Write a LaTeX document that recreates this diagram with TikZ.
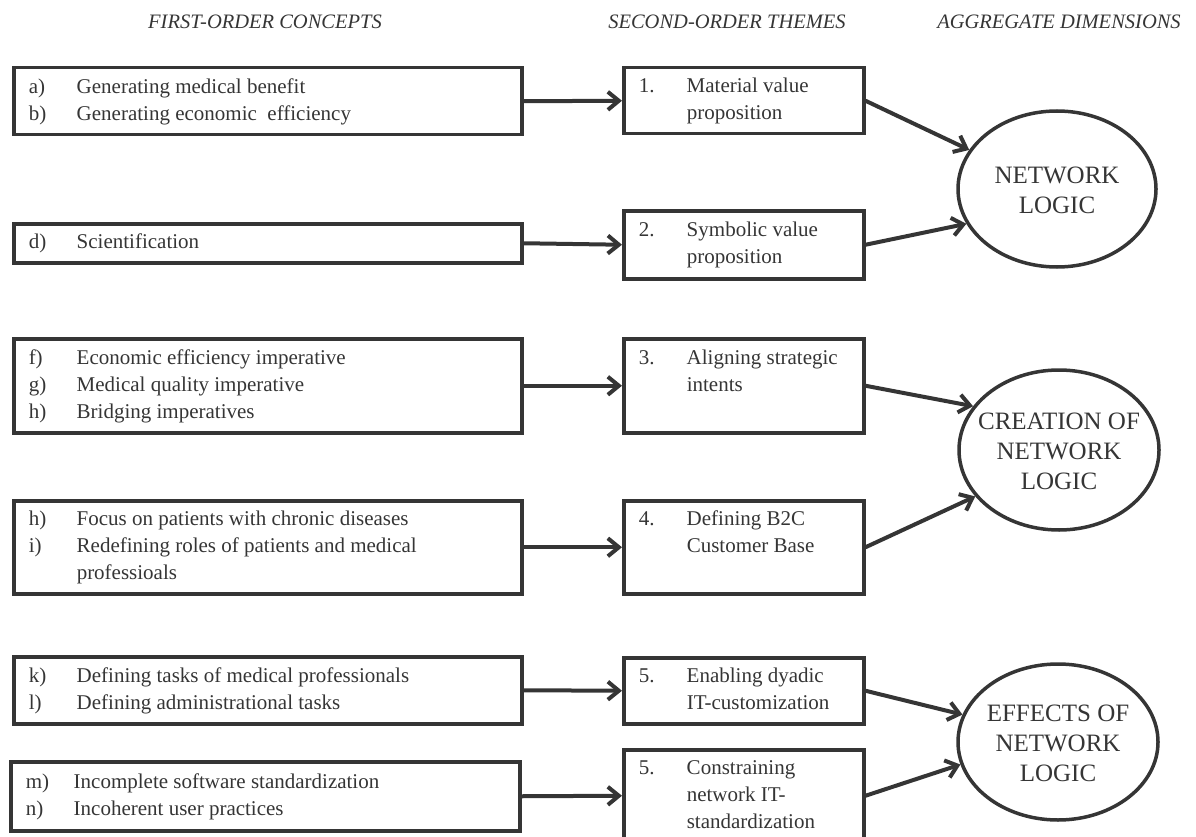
\documentclass[tikz,border=0pt]{standalone}
\usepackage{fontspec}
\setmainfont{Liberation Serif}
\usetikzlibrary{arrows.meta,shapes.geometric}
\definecolor{ink}{HTML}{353535}
\newcommand\bxt[2]{\hbox to #1pt{\hskip15pt\begin{tabular}{@{}p{48pt}@{}l@{}}#2\end{tabular}\hfil}}
\newcommand\fixtxt[1]{\smash{\makebox[0pt]{\raisebox{-10pt}{\begin{tabular}{@{}c@{}}#1\end{tabular}}}}}
\begin{document}
\begin{tikzpicture}[x=1pt,y=-1pt,
  box/.style={draw=ink, line width=3.5pt, rectangle, anchor=north west, inner sep=0pt, text=ink,
    font=\fontsize{21}{27}\selectfont},
  dim/.style={draw=ink, line width=3.5pt, ellipse, inner sep=0pt, text=ink,
    font=\fontsize{25}{30}\selectfont},
  head/.style={text=ink, inner sep=0pt, font=\fontsize{20.5}{24}\selectfont\itshape},
  arr/.style={draw=ink, line width=4pt, -{Straight Barb[length=11pt,width=18pt]}}]
\useasboundingbox (0,0) rectangle (1196,837);
\clip (0,0) rectangle (1196,837);

% headers
\node[head] (h1) at (265,22) {FIRST-ORDER CONCEPTS};
\node[head] (h2) at (727,22) {SECOND-ORDER THEMES};
\node[head] (h3) at (1059,22) {AGGREGATE DIMENSIONS};

% first-order concepts
\node[box, minimum height=67pt] (A) at (12,66) {\bxt{508}{a) & Generating medical benefit\\ b) & Generating economic\ \ efficiency}};
\node[box, minimum height=39pt] (D) at (12,222) {\bxt{508}{d) & Scientification}};
\node[box, minimum height=94pt] (F) at (12,337) {\bxt{508}{f) & Economic efficiency imperative\\ g) & Medical quality imperative\\ h) & Bridging imperatives}};
\node[box, minimum height=93pt] (HI) at (12,499) {\bxt{508}{h) & Focus on patients with chronic diseases\\ i) & Redefining roles of patients and medical\\ & professioals}};
\node[box, minimum height=67pt] (KL) at (12,655) {\bxt{508}{k) & Defining tasks of medical professionals\\ l) & Defining administrational tasks}};
\node[box, minimum height=69pt] (MN) at (9,760) {\bxt{509}{m) & Incomplete software standardization\\ n) & Incoherent user practices}};

% second-order themes
\node[box, minimum height=66pt] (B1) at (622,66) {\bxt{240}{1. & Material value\\ & proposition}};
\node[box, minimum height=68pt] (B2) at (622,209) {\bxt{240}{2. & Symbolic value\\ & proposition}};
\node[box, minimum height=94pt] (B3) at (622,337) {\bxt{240}{3. & Aligning strategic\\ & intents\\ & \mbox{}}};
\node[box, minimum height=93pt] (B4) at (622,499) {\bxt{240}{4. & Defining B2C\\ & Customer Base\\ & \mbox{}}};
\node[box, minimum height=66pt] (B5) at (622,656) {\bxt{240}{5. & Enabling dyadic\\ & IT-customization}};
\node[box, minimum height=92pt] (B6) at (622,748) {\bxt{240}{5. & Constraining\\ & network IT-\\ & standardization}};

% aggregate dimensions
\node[dim, minimum width=198pt, minimum height=156pt] (NET) at (1057,189) {\fixtxt{NETWORK\\LOGIC}};
\node[dim, minimum width=200pt, minimum height=160pt] (CRE) at (1059,450) {\fixtxt{CREATION OF\\NETWORK\\LOGIC}};
\node[dim, minimum width=200pt, minimum height=156pt] (EFF) at (1058,742) {\fixtxt{EFFECTS OF\\NETWORK\\LOGIC}};

% connectors
\draw[arr] (A.east) -- (B1.west);
\draw[arr] (D.east) -- (B2.west);
\draw[arr] (F.east) -- (B3.west);
\draw[arr] (HI.east) -- (B4.west);
\draw[arr] (KL.east) -- (B5.west);
\draw[arr] (MN.east) -- (B6.west);

\draw[arr] (B1.east) -- (NET.156);
\draw[arr] (B2.east) -- (NET.201);
\draw[arr] (B3.east) -- (CRE.153);
\draw[arr] (B4.east) -- (CRE.209);
\draw[arr] (B5.east) -- (EFF.164);
\draw[arr] (B6.east) -- (EFF.193);
\end{tikzpicture}
\end{document}
